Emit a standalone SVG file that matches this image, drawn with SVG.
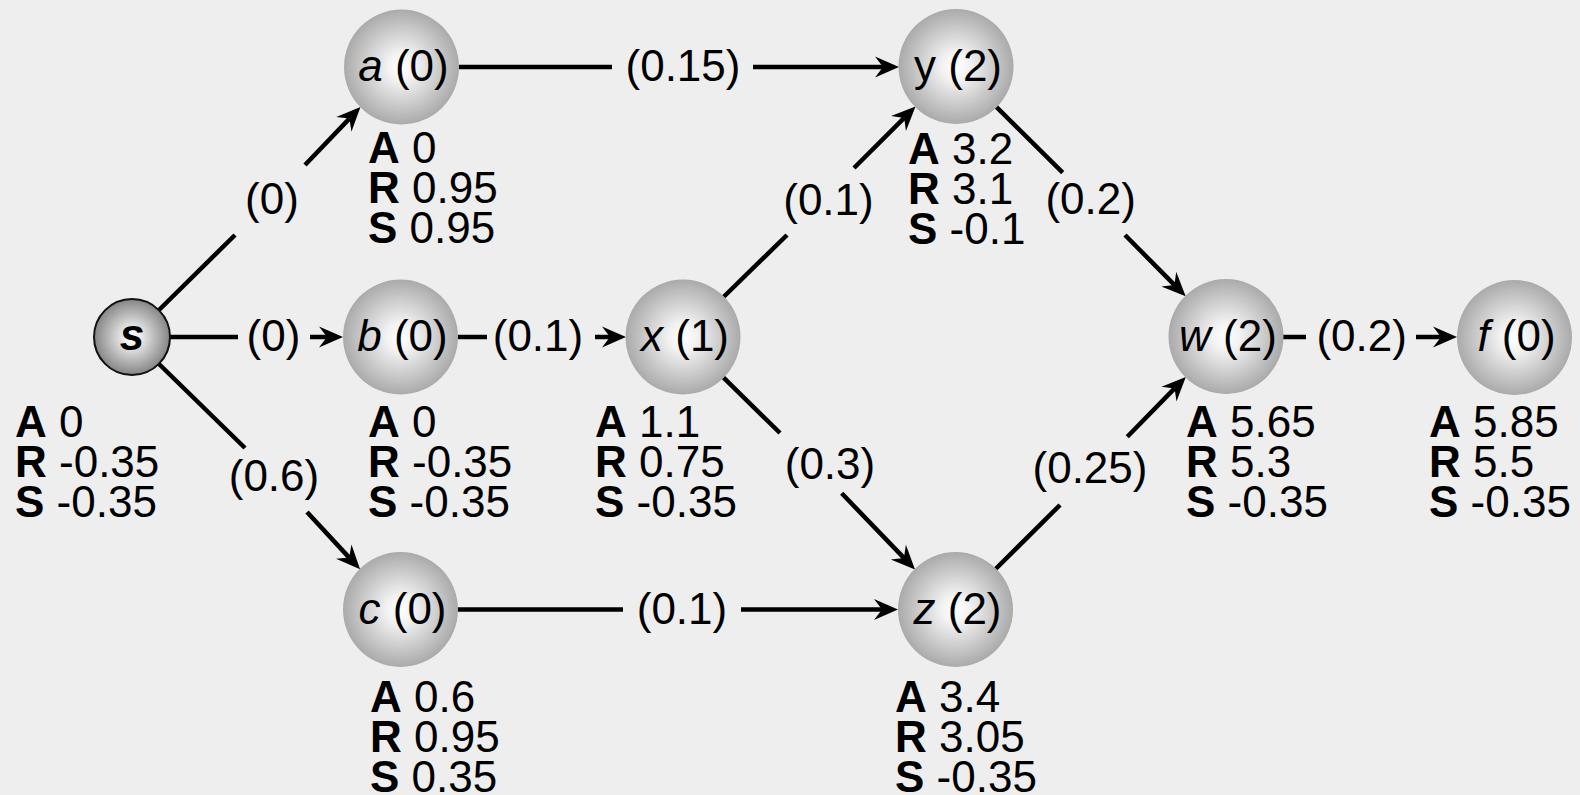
<svg xmlns="http://www.w3.org/2000/svg" width="1580" height="795" viewBox="0 0 1580 795">
<style>
text{font-family:"Liberation Sans",Arial,Helvetica,sans-serif;font-size:44px;fill:#000}
.lbl{text-anchor:middle}
.b{font-weight:bold}
.i{font-style:italic}
.edge{stroke:#000;stroke-width:4.5;fill:none}
.arr{stroke:#000;stroke-width:4.5;fill:none;marker-end:url(#ah)}
.node{fill:url(#g)}
</style>
<defs>
<radialGradient id="g" cx="50%" cy="50%" r="50%">
<stop offset="0" stop-color="#ffffff"/>
<stop offset="0.25" stop-color="#f2f2f2"/>
<stop offset="1" stop-color="#aaaaaa"/>
</radialGradient>
<radialGradient id="gs" cx="50%" cy="50%" r="50%">
<stop offset="0" stop-color="#ffffff"/>
<stop offset="0.2" stop-color="#f0f0f0"/>
<stop offset="1" stop-color="#858585"/>
</radialGradient>
<marker id="ah" markerUnits="userSpaceOnUse" markerWidth="40" markerHeight="40" refX="0" refY="0" orient="auto" overflow="visible">
<path d="M16,0 L-8,-10.5 L0,0 L-8,10.5 Z" fill="#000"/>
</marker>
</defs>
<rect width="1580" height="795" fill="#eeeeee"/>

<g id="connectors">
<!-- s->a -->
<line class="edge" x1="159" y1="310" x2="235" y2="235"/>
<line class="arr" x1="305" y1="165" x2="349.4" y2="118.6"/>
<text class="lbl" x="272" y="214">(0)</text>
<!-- s->b -->
<line class="edge" x1="170" y1="337" x2="238" y2="337"/>
<line class="arr" x1="310" y1="337" x2="327" y2="337"/>
<text class="lbl" x="273.5" y="351">(0)</text>
<!-- s->c -->
<line class="edge" x1="159" y1="364" x2="245" y2="448"/>
<line class="arr" x1="307" y1="512" x2="349.2" y2="557.6"/>
<text class="lbl" x="274" y="491">(0.6)</text>
<!-- a->y -->
<line class="edge" x1="459" y1="67" x2="612" y2="67"/>
<line class="arr" x1="753" y1="67" x2="883" y2="67"/>
<text class="lbl" x="683" y="81">(0.15)</text>
<!-- b->x -->
<line class="edge" x1="458" y1="337" x2="487" y2="337"/>
<line class="arr" x1="595" y1="337" x2="610" y2="337"/>
<text class="lbl" x="538" y="351">(0.1)</text>
<!-- c->z -->
<line class="edge" x1="458" y1="609.5" x2="623" y2="609.5"/>
<line class="arr" x1="741" y1="609.5" x2="882" y2="609.5"/>
<text class="lbl" x="682" y="623.5">(0.1)</text>
<!-- x->y -->
<line class="edge" x1="723.5" y1="297" x2="787" y2="235"/>
<line class="arr" x1="854" y1="168" x2="904.2" y2="117.9"/>
<text class="lbl" x="828.5" y="215">(0.1)</text>
<!-- x->z -->
<line class="edge" x1="723.3" y1="377.3" x2="780" y2="433"/>
<line class="arr" x1="841.7" y1="493.3" x2="903.9" y2="557.9"/>
<text class="lbl" x="830" y="479">(0.3)</text>
<!-- y->w -->
<line class="edge" x1="996.3" y1="106.8" x2="1062.7" y2="172.7"/>
<line class="arr" x1="1125" y1="235" x2="1174.4" y2="284.9"/>
<text class="lbl" x="1090.7" y="214">(0.2)</text>
<!-- z->w -->
<line class="edge" x1="995.6" y1="569" x2="1060" y2="505"/>
<line class="arr" x1="1127.3" y1="436.7" x2="1174.6" y2="388.4"/>
<text class="lbl" x="1090" y="483">(0.25)</text>
<!-- w->f -->
<line class="edge" x1="1283" y1="337" x2="1306" y2="337"/>
<line class="arr" x1="1416" y1="337" x2="1441" y2="337"/>
<text class="lbl" x="1361.7" y="351">(0.2)</text>
</g>

<g id="node-s">
<circle cx="132" cy="337" r="38" fill="url(#gs)" stroke="#111" stroke-width="2"/>
<text class="lbl b i" x="132" y="350">s</text>
<text x="15" y="437"><tspan class="b">A</tspan> 0</text>
<text x="15" y="477"><tspan class="b">R</tspan> -0.35</text>
<text x="15" y="517"><tspan class="b">S</tspan> -0.35</text>
</g>

<g id="node-a">
<circle class="node" cx="401.5" cy="67" r="57.5"/>
<text class="lbl" x="403.5" y="81"><tspan class="i">a</tspan> (0)</text>
<text x="368" y="163"><tspan class="b">A</tspan> 0</text>
<text x="368" y="203"><tspan class="b">R</tspan> 0.95</text>
<text x="368" y="243"><tspan class="b">S</tspan> 0.95</text>
</g>

<g id="node-b">
<circle class="node" cx="400.5" cy="337" r="57.5"/>
<text class="lbl" x="402.5" y="351"><tspan class="i">b</tspan> (0)</text>
<text x="368" y="437"><tspan class="b">A</tspan> 0</text>
<text x="368" y="477"><tspan class="b">R</tspan> -0.35</text>
<text x="368" y="517"><tspan class="b">S</tspan> -0.35</text>
</g>

<g id="node-c">
<circle class="node" cx="400.5" cy="609.5" r="57.5"/>
<text class="lbl" x="402.5" y="623.5"><tspan class="i">c</tspan> (0)</text>
<text x="370" y="712"><tspan class="b">A</tspan> 0.6</text>
<text x="370" y="752"><tspan class="b">R</tspan> 0.95</text>
<text x="370" y="792"><tspan class="b">S</tspan> 0.35</text>
</g>

<g id="node-x">
<circle class="node" cx="683" cy="337" r="57.5"/>
<text class="lbl" x="685" y="351"><tspan class="i">x</tspan> (1)</text>
<text x="595" y="437"><tspan class="b">A</tspan> 1.1</text>
<text x="595" y="477"><tspan class="b">R</tspan> 0.75</text>
<text x="595" y="517"><tspan class="b">S</tspan> -0.35</text>
</g>

<g id="node-y">
<circle class="node" cx="956" cy="66.5" r="57.5"/>
<text class="lbl" x="958" y="80.5">y (2)</text>
<text x="908" y="164"><tspan class="b">A</tspan> 3.2</text>
<text x="908" y="204"><tspan class="b">R</tspan> 3.1</text>
<text x="908" y="244"><tspan class="b">S</tspan> -0.1</text>
</g>

<g id="node-z">
<circle class="node" cx="955.5" cy="609.5" r="57.5"/>
<text class="lbl" x="957.5" y="623.5"><tspan class="i">z</tspan> (2)</text>
<text x="895" y="712"><tspan class="b">A</tspan> 3.4</text>
<text x="895" y="752"><tspan class="b">R</tspan> 3.05</text>
<text x="895" y="792"><tspan class="b">S</tspan> -0.35</text>
</g>

<g id="node-w">
<circle class="node" cx="1226" cy="336.5" r="57.5"/>
<text class="lbl" x="1228" y="351"><tspan class="i">w</tspan> (2)</text>
<text x="1186" y="437"><tspan class="b">A</tspan> 5.65</text>
<text x="1186" y="477"><tspan class="b">R</tspan> 5.3</text>
<text x="1186" y="517"><tspan class="b">S</tspan> -0.35</text>
</g>

<g id="node-f">
<circle class="node" cx="1514.5" cy="337.5" r="57.5"/>
<text class="lbl" x="1516.5" y="351"><tspan class="i">f</tspan> (0)</text>
<text x="1429" y="437"><tspan class="b">A</tspan> 5.85</text>
<text x="1429" y="477"><tspan class="b">R</tspan> 5.5</text>
<text x="1429" y="517"><tspan class="b">S</tspan> -0.35</text>
</g>
</svg>
